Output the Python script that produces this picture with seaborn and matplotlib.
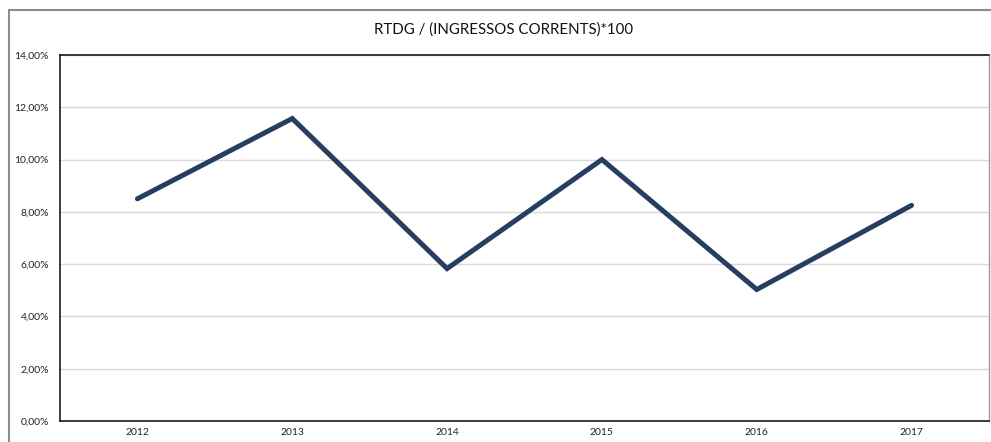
import matplotlib
matplotlib.use("Agg")
import matplotlib.pyplot as plt
from matplotlib.patches import Rectangle
from matplotlib.ticker import FuncFormatter
import seaborn as sns
import pandas as pd

years = ["2012", "2013", "2014", "2015", "2016", "2017"]
ratio_pct = [8.50, 11.57, 5.83, 10.00, 5.03, 8.25]
y_ticks = [0, 2, 4, 6, 8, 10, 12, 14]
title = "RTDG / (INGRESSOS CORRENTS)*100"

sns.set_theme(style="white")
plt.rcParams["font.family"] = ["Lato", "DejaVu Sans"]

df = pd.DataFrame({"any": years, "valor": ratio_pct})

W, H = 991, 442
fig = plt.figure(figsize=(W / 100, H / 100), dpi=100)
left, right, top, bottom = 60, 989, 55, 421
ax = fig.add_axes([left / W, 1 - bottom / H, (right - left) / W, (bottom - top) / H])

# outer chart frame
fig.patches.append(Rectangle((9 / W, -0.1), 1.2, 1 - 10 / H + 0.1,
                             transform=fig.transFigure, fill=False,
                             edgecolor="#8c8c8c", linewidth=1.5, zorder=0))

sns.lineplot(data=df, x="any", y="valor", ax=ax, color="#263f61",
             linewidth=3.6, solid_capstyle="round", solid_joinstyle="miter",
             sort=False, zorder=3)

ax.set_xlim(-0.5, len(years) - 0.5)
ax.set_ylim(0, 14)
ax.set_yticks(y_ticks)
ax.yaxis.set_major_formatter(FuncFormatter(lambda v, p: f"{v:.2f}%".replace(".", ",")))
ax.grid(axis="y", color="#d9d9d9", linewidth=1.0)
ax.set_axisbelow(True)
ax.tick_params(axis="both", length=0, labelsize=7.5, colors="#222222")
ax.tick_params(axis="y", pad=8)
ax.tick_params(axis="x", pad=5)
ax.set_xlabel("")
ax.set_ylabel("")

for s in ["left", "top", "bottom"]:
    ax.spines[s].set_color("#1a1a1a")
    ax.spines[s].set_linewidth(1.2)
ax.spines["right"].set_color("#9a9a9a")
ax.spines["right"].set_linewidth(1.0)

fig.text(504 / W, 1 - 30 / H, title, ha="center", va="center",
         fontsize=10.8, color="#111111")

fig.savefig("out.png", dpi=100)
